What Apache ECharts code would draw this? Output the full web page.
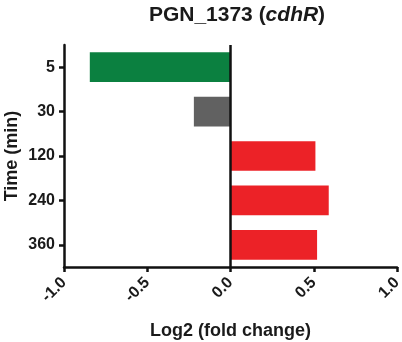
<!DOCTYPE html>
<html>
<head>
<meta charset="utf-8">
<script src="https://cdn.jsdelivr.net/npm/echarts@6/dist/echarts.min.js"></script>
<style>
  html, body { margin: 0; padding: 0; background: #fff; }
  #chart { width: 402px; height: 342px; }
</style>
</head>
<body>
<div id="chart"></div>
<script>
// time points (min)
const timePoints = ['5', '30', '120', '240', '360']
// log2 fold change per time point
const foldChange = [-0.845, -0.22, 0.51, 0.59, 0.52]
const barColors = ['#0b8040', '#616161', '#ec2227', '#ec2227', '#ec2227']
const xTicks = [-1.0, -0.5, 0.0, 0.5, 1.0]

const font = 'Liberation Sans, Arial, sans-serif'

const chart = echarts.init(document.getElementById('chart'))

chart.setOption({
  animation: false,
  title: {
    text: '{n|PGN_1373 (}{i|cdhR}{n|)}',
    left: 232,
    textAlign: 'center',
    top: 0,
    textStyle: {
      rich: {
        n: { fontFamily: font, fontWeight: 'bold', fontSize: 21, color: '#1a1a1a' },
        i: { fontFamily: font, fontWeight: 'bold', fontStyle: 'italic', fontSize: 21, color: '#1a1a1a' }
      }
    }
  },
  grid: {
    left: 64,
    right: 5,
    top: 45,
    bottom: 75,
    containLabel: false,
    outerBoundsMode: 'none'
  },
  xAxis: {
    type: 'value',
    min: xTicks[0],
    max: xTicks[xTicks.length - 1],
    interval: 0.5,
    splitLine: { show: false },
    axisLine: { show: true, onZero: false, lineStyle: { color: '#111', width: 2.5 } },
    axisTick: { show: true, length: 5, lineStyle: { color: '#111', width: 2.5 } },
    axisLabel: {
      rotate: 45,
      margin: 13,
      fontFamily: font,
      fontWeight: 'bold',
      fontSize: 16,
      color: '#1a1a1a',
      formatter: v => v.toFixed(1)
    },
    name: 'Log2 (fold change)',
    nameLocation: 'middle',
    nameGap: 55,
    nameMoveOverlap: false,
    nameTextStyle: { fontFamily: font, fontWeight: 'bold', fontSize: 18, color: '#1a1a1a' }
  },
  yAxis: {
    type: 'category',
    inverse: true,
    data: timePoints,
    axisLine: { show: true, onZero: false, lineStyle: { color: '#111', width: 2.5 } },
    axisTick: { show: true, length: 5, alignWithLabel: true, lineStyle: { color: '#111', width: 2.5 } },
    axisLabel: {
      margin: 9,
      fontFamily: font,
      fontWeight: 'bold',
      fontSize: 16,
      color: '#1a1a1a'
    },
    name: 'Time (min)',
    nameLocation: 'middle',
    nameGap: 43,
    nameMoveOverlap: false,
    nameTextStyle: { fontFamily: font, fontWeight: 'bold', fontSize: 18, color: '#1a1a1a' }
  },
  series: [{
    type: 'bar',
    barWidth: '67%',
    data: foldChange.map((v, i) => ({ value: v, itemStyle: { color: barColors[i] } })),
    markLine: {
      silent: true,
      symbol: 'none',
      label: { show: false },
      lineStyle: { color: '#111', width: 2.5, type: 'solid' },
      data: [{ xAxis: 0 }]
    }
  }]
})
</script>
</body>
</html>
